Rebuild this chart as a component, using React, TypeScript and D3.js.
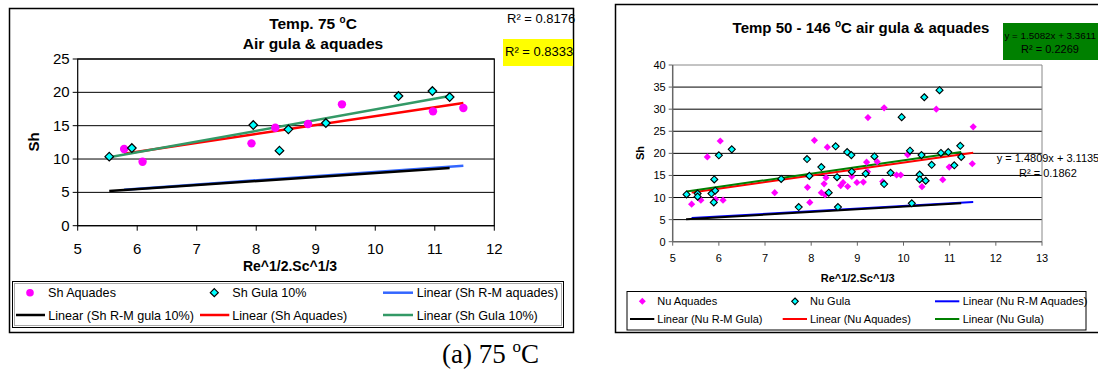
import React from "react";
import * as d3 from "d3";

// ---------- Left chart (75 °C) ----------
const shAquadesX = [5.78, 6.09, 7.92, 8.32, 8.87, 9.44, 10.97, 11.48];
const shAquadesY = [11.5, 9.6, 12.35, 14.7, 15.25, 18.2, 17.15, 17.65];
const shGulaX = [5.53, 5.91, 7.95, 8.39, 8.54, 9.17, 10.39, 10.96, 11.25];
const shGulaY = [10.35, 11.65, 15.1, 11.25, 14.45, 15.4, 19.45, 20.2, 19.3];
// trend lines: [x0, x1], [y0, y1]
const lRMAquadesX = [5.78, 11.48];
const lRMAquadesY = [5.4, 9.0];
const lRMGulaX = [5.53, 11.25];
const lRMGulaY = [5.2, 8.65];
const lAquadesX = [5.78, 11.48];
const lAquadesY = [10.8, 18.4];
const lGulaX = [5.53, 11.25];
const lGulaY = [10.25, 19.45];
const leftXTicks = [5, 6, 7, 8, 9, 10, 11, 12];
const leftYTicks = [0, 5, 10, 15, 20, 25];

// ---------- Right chart (50 - 146 °C) ----------
const nuAquadesX = [5.41, 5.61, 5.75, 5.93, 6.03, 6.09, 7.21, 7.92, 7.97, 8.07, 8.22, 8.28, 8.30, 8.32, 8.35, 8.64, 8.69, 8.79, 8.88, 8.99, 9.13, 9.20, 9.22, 9.23, 9.43, 9.55, 9.58, 9.85, 9.94, 10.09, 10.40, 10.71, 10.85, 10.99, 11.49, 11.51];
const nuAquadesY = [8.5, 9.4, 19.2, 9.6, 22.8, 9.4, 11.1, 12.3, 8.9, 22.95, 11.1, 13.1, 10.6, 14.5, 21.4, 12.7, 13.4, 12.5, 14.8, 13.4, 13.5, 18.0, 15.85, 28.1, 18.1, 13.6, 30.3, 15.1, 15.1, 19.7, 12.45, 30.0, 14.05, 16.9, 17.65, 26.0];
const nuGulaX = [5.30, 5.54, 5.54, 5.84, 5.89, 5.90, 5.92, 6.00, 6.28, 7.35, 7.73, 7.91, 7.96, 8.22, 8.38, 8.53, 8.56, 8.58, 8.78, 8.87, 8.88, 9.18, 9.37, 9.58, 9.72, 9.96, 10.14, 10.18, 10.35, 10.35, 10.39, 10.45, 10.48, 10.61, 10.78, 10.81, 10.97, 11.10, 11.23, 11.25];
const nuGulaY = [10.7, 10.9, 10.2, 10.9, 8.9, 14.1, 11.55, 19.55, 20.9, 14.2, 7.85, 18.7, 14.9, 16.9, 11.1, 21.6, 14.6, 7.85, 20.3, 19.6, 15.85, 15.4, 19.3, 13.05, 15.6, 28.2, 20.6, 8.7, 15.2, 14.1, 19.6, 32.7, 13.8, 17.4, 34.3, 20.1, 20.3, 17.3, 21.7, 19.2];
const rRMAquadesX = [5.41, 11.51];
const rRMAquadesY = [5.35, 9.0];
const rRMGulaX = [5.29, 11.25];
const rRMGulaY = [5.1, 8.7];
const rAquadesSlope = 1.4809;
const rAquadesIntercept = 3.1135;
const rAquadesX = [5.41, 11.51];
const rGulaSlope = 1.5082;
const rGulaIntercept = 3.3611;
const rGulaX = [5.30, 11.25];
const rightXTicks = [5, 6, 7, 8, 9, 10, 11, 12, 13];
const rightYTicks = [0, 5, 10, 15, 20, 25, 30, 35, 40];

const FONT = "Liberation Sans, Arial, sans-serif";

const diamond = (s: number) => `M0,${-s}L${s},0L0,${s}L${-s},0Z`;

function LeftChart() {
  const x = d3.scaleLinear().domain([5, 12]).range([77.7, 494.3]);
  const y = d3.scaleLinear().domain([0, 25]).range([225.7, 59]);
  const line = (xs: number[], ys: number[]) =>
    d3.line<number>().x((d) => x(xs[d])).y((d) => y(ys[d]))(xs.map((_, i) => i)) || "";
  const LF = 12.6;
  return (
    <g fontFamily={FONT}>
      <rect x={9.5} y={8.5} width={564} height={324} fill="#fff" stroke="#000" strokeWidth={1.5} />
      <text x={313} y={29} textAnchor="middle" fontSize={15.5} fontWeight="bold">
        Temp. 75 <tspan fontSize={10} dy={-6}>o</tspan><tspan dy={6}>C</tspan>
      </text>
      <text x={313} y={49} textAnchor="middle" fontSize={15.5} fontWeight="bold">Air gula &amp; aquades</text>
      <text x={507} y={23} fontSize={13}>R² = 0.8176</text>
      <rect x={503} y={39} width={70} height={27} fill="#ffff00" />
      <text x={505} y={56} fontSize={13}>R² = 0.8333</text>
      {/* gridlines */}
      {leftYTicks.map((t) => (
        <line key={t} x1={x(5)} x2={x(12)} y1={y(t)} y2={y(t)} stroke="#000" strokeWidth={1} />
      ))}
      <rect x={x(5)} y={y(25)} width={x(12) - x(5)} height={y(0) - y(25)} fill="none" stroke="#000" strokeWidth={1.2} />
      {leftYTicks.map((t) => (
        <g key={t}>
          <line x1={x(5) - 5} x2={x(5)} y1={y(t)} y2={y(t)} stroke="#000" />
          <text x={x(5) - 8} y={y(t) + 5} textAnchor="end" fontSize={15}>{t}</text>
        </g>
      ))}
      {leftXTicks.map((t) => (
        <g key={t}>
          <line x1={x(t)} x2={x(t)} y1={y(0)} y2={y(0) + 5} stroke="#000" />
          <text x={x(t)} y={y(0) + 28} textAnchor="middle" fontSize={15}>{t}</text>
        </g>
      ))}
      <text transform={`translate(39,142) rotate(-90)`} textAnchor="middle" fontSize={15} fontWeight="bold">Sh</text>
      <text x={290} y={271} textAnchor="middle" fontSize={14} fontWeight="bold">Re^1/2.Sc^1/3</text>
      {/* trend lines */}
      <path d={line(lRMAquadesX, lRMAquadesY)} stroke="#3366ff" strokeWidth={2.5} fill="none" />
      <path d={line(lRMGulaX, lRMGulaY)} stroke="#000" strokeWidth={2.5} fill="none" />
      <path d={line(lAquadesX, lAquadesY)} stroke="#ff0000" strokeWidth={2.5} fill="none" />
      <path d={line(lGulaX, lGulaY)} stroke="#339966" strokeWidth={2.5} fill="none" />
      {/* points */}
      {shAquadesX.map((v, i) => (
        <circle key={"a" + i} cx={x(v)} cy={y(shAquadesY[i])} r={4.2} fill="#ff00ff" />
      ))}
      {shGulaX.map((v, i) => (
        <path key={"g" + i} d={diamond(4.3)} transform={`translate(${x(v)},${y(shGulaY[i])})`} fill="#00ffff" stroke="#000" strokeWidth={1.2} />
      ))}
      {/* legend */}
      <rect x={12.5} y={281.5} width={551} height={46} fill="#fff" stroke="#000" strokeWidth={1} />
      <rect x={14.5} y={283.5} width={547} height={42} fill="none" stroke="#aaa" strokeWidth={1} />
      <circle cx={30} cy={292.7} r={3.8} fill="#ff00ff" />
      <text x={48} y={297.4} fontSize={LF}>Sh Aquades</text>
      <path d={diamond(4)} transform="translate(214.3,292.7)" fill="#00ffff" stroke="#000" strokeWidth={1.2} />
      <text x={232.3} y={297.4} fontSize={LF}>Sh Gula 10%</text>
      <line x1={383} x2={413} y1={292.7} y2={292.7} stroke="#3366ff" strokeWidth={2.5} />
      <text x={416.7} y={297.4} fontSize={LF}>Linear (Sh R-M aquades)</text>
      <line x1={16} x2={45} y1={315} y2={315} stroke="#000" strokeWidth={2.5} />
      <text x={48.3} y={319.7} fontSize={LF}>Linear (Sh R-M gula 10%)</text>
      <line x1={200} x2={229.3} y1={315} y2={315} stroke="#ff0000" strokeWidth={2.5} />
      <text x={232.3} y={319.7} fontSize={LF}>Linear (Sh Aquades)</text>
      <line x1={383} x2={413} y1={315} y2={315} stroke="#339966" strokeWidth={2.5} />
      <text x={416.7} y={319.7} fontSize={LF}>Linear (Sh Gula 10%)</text>
      {/* caption */}
      <text x={442} y={363} fontSize={27} fontFamily="Liberation Serif, Times New Roman, serif">
        (a) 75 <tspan fontSize={17} dy={-11}>o</tspan><tspan dy={11}>C</tspan>
      </text>
    </g>
  );
}

function RightChart() {
  const x = d3.scaleLinear().domain([5, 13]).range([672.7, 1042]);
  const y = d3.scaleLinear().domain([0, 40]).range([241.7, 65]);
  const line = (xs: number[], ys: number[]) =>
    d3.line<number>().x((d) => x(xs[d])).y((d) => y(ys[d]))(xs.map((_, i) => i)) || "";
  const fitLine = (xs: number[], m: number, b: number) => line(xs, xs.map((v) => m * v + b));
  return (
    <g fontFamily={FONT}>
      <rect x={615.5} y={4.5} width={500} height={328} fill="#fff" stroke="#000" strokeWidth={1.5} />
      <text x={861} y={33} textAnchor="middle" fontSize={15} fontWeight="bold">
        Temp 50 - 146 <tspan fontSize={10} dy={-6}>o</tspan><tspan dy={6}>C air gula &amp; aquades</tspan>
      </text>
      <rect x={1003} y={23} width={100} height={37} fill="#008000" />
      <text x={1004.5} y={38.5} fontSize={9.8}>y = 1.5082x + 3.3611</text>
      <text x={1050} y={53} textAnchor="middle" fontSize={11}>R² = 0.2269</text>
      {rightYTicks.filter((t) => t > 0 && t < 40).map((t) => (
        <line key={t} x1={x(5)} x2={x(13)} y1={y(t)} y2={y(t)} stroke="#000" strokeWidth={1} />
      ))}
      <line x1={x(5)} x2={x(13)} y1={y(40)} y2={y(40)} stroke="#888" strokeWidth={1} />
      <line x1={x(13)} x2={x(13)} y1={y(40)} y2={y(0)} stroke="#888" strokeWidth={1} />
      <line x1={x(5)} x2={x(5)} y1={y(40)} y2={y(0)} stroke="#666" strokeWidth={1.5} />
      <line x1={x(5)} x2={x(13)} y1={y(0)} y2={y(0)} stroke="#666" strokeWidth={1.5} />
      {rightYTicks.map((t) => (
        <g key={t}>
          <line x1={x(5) - 4} x2={x(5)} y1={y(t)} y2={y(t)} stroke="#666" />
          <text x={x(5) - 7} y={y(t) + 4} textAnchor="end" fontSize={11}>{t}</text>
        </g>
      ))}
      {rightXTicks.map((t) => (
        <g key={t}>
          <line x1={x(t)} x2={x(t)} y1={y(0)} y2={y(0) + 4} stroke="#666" />
          <text x={x(t)} y={y(0) + 20} textAnchor="middle" fontSize={11}>{t}</text>
        </g>
      ))}
      <text transform={`translate(644,153) rotate(-90)`} textAnchor="middle" fontSize={11} fontWeight="bold">Sh</text>
      <text x={857.7} y={282} textAnchor="middle" fontSize={11} fontWeight="bold">Re^1/2.Sc^1/3</text>
      {/* trend lines */}
      <path d={line(rRMAquadesX, rRMAquadesY)} stroke="#0000ff" strokeWidth={2} fill="none" />
      <path d={line(rRMGulaX, rRMGulaY)} stroke="#000" strokeWidth={2} fill="none" />
      <path d={fitLine(rAquadesX, rAquadesSlope, rAquadesIntercept)} stroke="#ff0000" strokeWidth={2} fill="none" />
      <path d={fitLine(rGulaX, rGulaSlope, rGulaIntercept)} stroke="#008000" strokeWidth={2} fill="none" />
      {/* points */}
      {nuAquadesX.map((v, i) => (
        <path key={"a" + i} d={diamond(3.6)} transform={`translate(${x(v)},${y(nuAquadesY[i])})`} fill="#ff00ff" />
      ))}
      {nuGulaX.map((v, i) => (
        <path key={"g" + i} d={diamond(3.5)} transform={`translate(${x(v)},${y(nuGulaY[i])})`} fill="#00ffff" stroke="#000" strokeWidth={1.1} />
      ))}
      <text x={996.7} y={162} fontSize={11}>y = 1.4809x + 3.1135</text>
      <text x={1019} y={177} fontSize={11}>R² = 0.1862</text>
      {/* legend */}
      <rect x={627} y={291.5} width={459} height={38.5} fill="#fff" stroke="#000" strokeWidth={1} />
      <path d={diamond(3.5)} transform="translate(642.3,301.3)" fill="#ff00ff" />
      <text x={657.3} y={305.3} fontSize={11}>Nu Aquades</text>
      <path d={diamond(3.3)} transform="translate(795,301.3)" fill="#00ffff" stroke="#000" strokeWidth={1.1} />
      <text x={810} y={305.3} fontSize={11}>Nu Gula</text>
      <line x1={935} x2={959.3} y1={301.3} y2={301.3} stroke="#0000ff" strokeWidth={2} />
      <text x={962.7} y={305.3} fontSize={11}>Linear (Nu R-M Aquades)</text>
      <line x1={630} x2={654.3} y1={319} y2={319} stroke="#000" strokeWidth={2} />
      <text x={657.3} y={323} fontSize={11}>Linear (Nu R-M Gula)</text>
      <line x1={782.7} x2={807} y1={319} y2={319} stroke="#ff0000" strokeWidth={2} />
      <text x={810} y={323} fontSize={11}>Linear (Nu Aquades)</text>
      <line x1={935} x2={959.3} y1={319} y2={319} stroke="#008000" strokeWidth={2} />
      <text x={962.7} y={323} fontSize={11}>Linear (Nu Gula)</text>
    </g>
  );
}

export default function App() {
  return (
    <div style={{ position: "absolute", left: 0, top: 0, width: 1098, height: 371, overflow: "hidden", background: "#fff" }}>
      <svg width={1098} height={371} style={{ display: "block" }}>
        <rect width={1098} height={371} fill="#fff" />
        <LeftChart />
        <RightChart />
      </svg>
    </div>
  );
}
